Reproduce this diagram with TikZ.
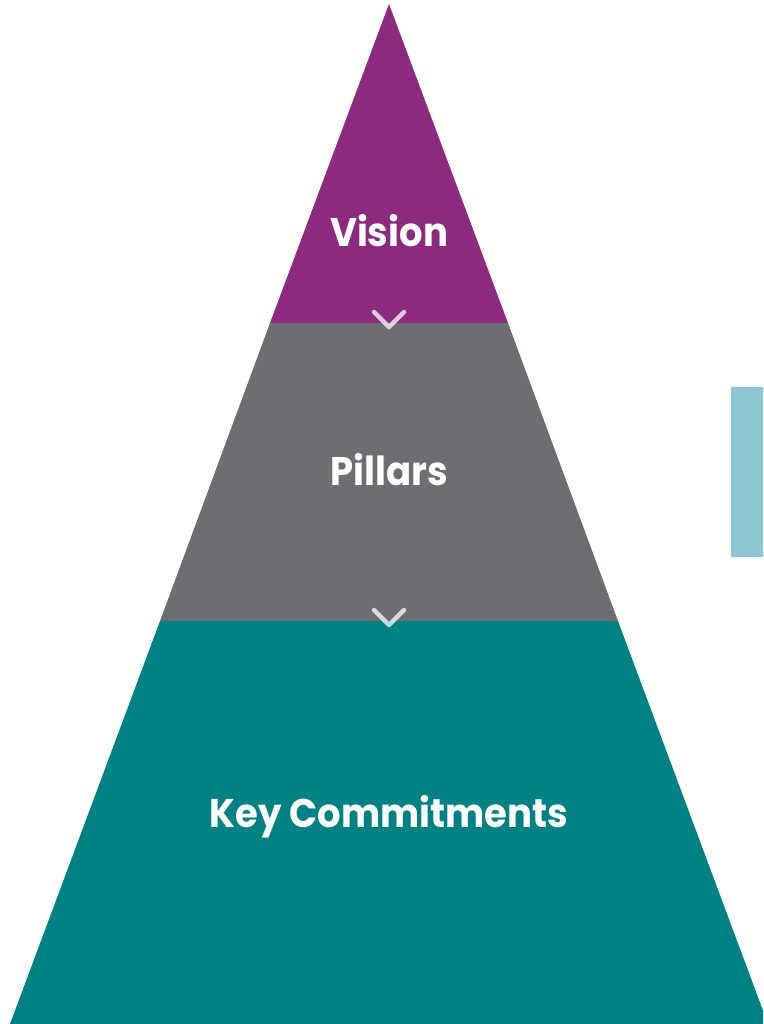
\documentclass[tikz,border=0pt]{standalone}
\usepackage{fontspec}
\setmainfont{Poppins}
\newfontfamily\lblfont[FakeStretch=0.925]{Poppins}
\begin{document}
\begin{tikzpicture}[x=1pt,y=-1pt,
  lbl/.style={text=white,font=\lblfont\fontsize{40}{40}\selectfont\bfseries,anchor=base,inner sep=0pt},
  chev/.style={draw=white,draw opacity=0.75,line width=4.5pt,line cap=round,line join=round}]
\useasboundingbox (0,0) rectangle (763,1024);
\clip (0,0) rectangle (763,1024);
\definecolor{vis}{HTML}{8B2A7F}
\definecolor{pil}{HTML}{6D6E71}
\definecolor{key}{HTML}{008285}
\definecolor{side}{HTML}{8CC6D2}
\coordinate (apex) at (389,4);
\coordinate (v1) at (270,323);
\coordinate (v2) at (508,323);
\coordinate (p1) at (160,621);
\coordinate (p2) at (618,621);
\coordinate (k1) at (10,1024);
\coordinate (k2) at (768,1024);
\fill[vis] (apex) -- (v2) -- (v1) -- cycle;
\fill[pil] (v1) -- (v2) -- (p2) -- (p1) -- cycle;
\fill[key] (p1) -- (p2) -- (k2) -- (k1) -- cycle;
\fill[side] (731,387) rectangle (763,557);
\node[lbl] (vision) at (389,247) {Vision};
\node[lbl] (pillars) at (389,485) {Pillars};
\node[lbl] (keyc) at (389,827) {Key Commitments};
\coordinate (c1a) at (374,312);
\coordinate (c1b) at (389,327);
\coordinate (c1c) at (404,312);
\coordinate (c2a) at (374,610);
\coordinate (c2b) at (389,625);
\coordinate (c2c) at (404,610);
\draw[chev] (c1a) -- (c1b) -- (c1c);
\draw[chev] (c2a) -- (c2b) -- (c2c);
\end{tikzpicture}
\end{document}
